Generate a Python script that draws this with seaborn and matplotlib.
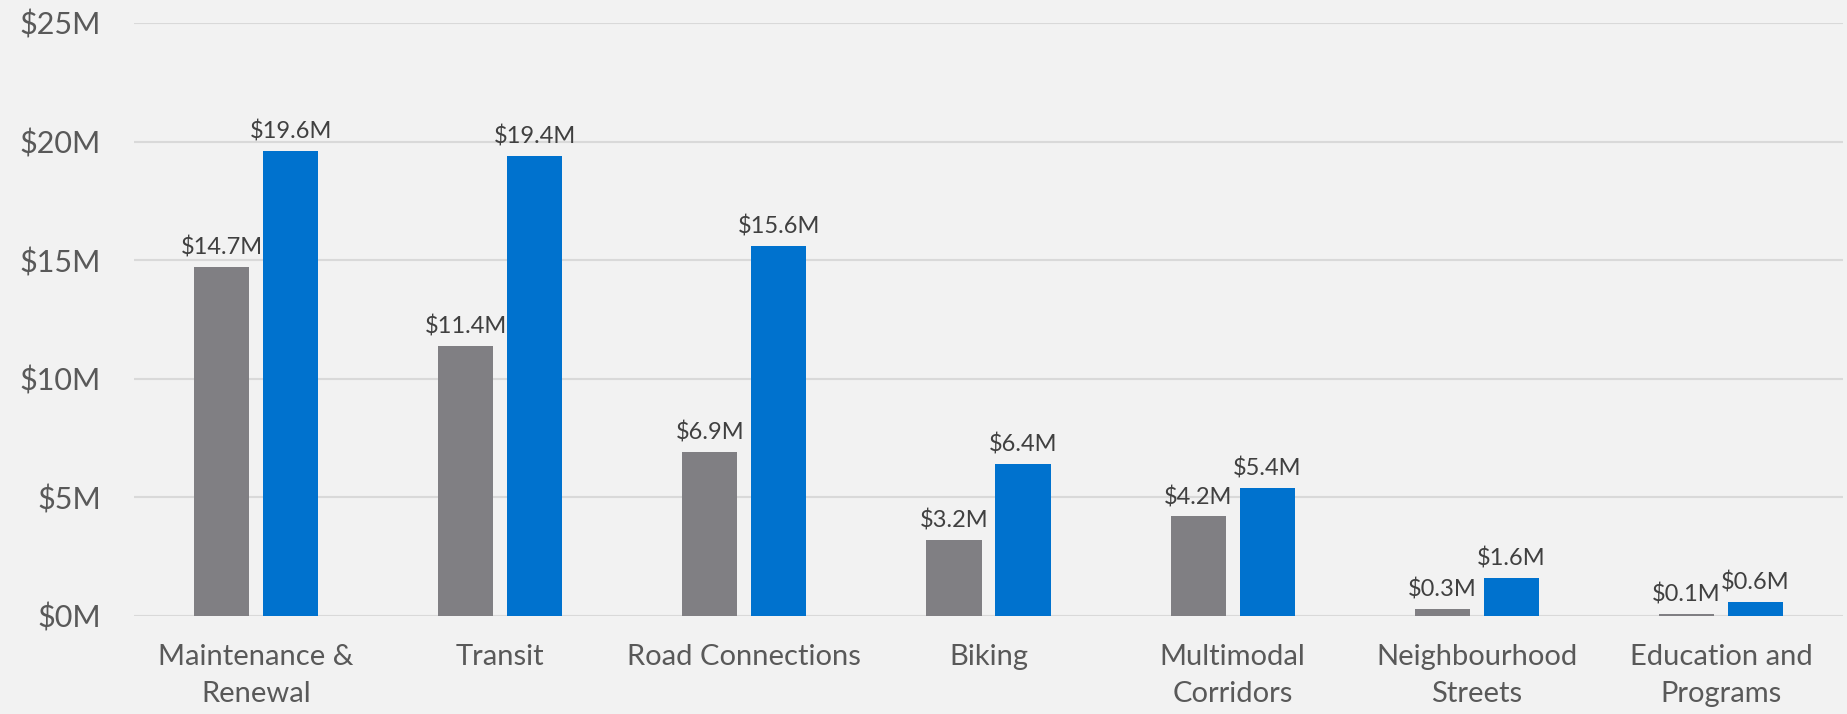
import matplotlib

matplotlib.use("Agg")
import matplotlib.pyplot as plt
import pandas as pd
import seaborn as sns

CATEGORIES = [
    "Maintenance &\nRenewal",
    "Transit",
    "Road Connections",
    "Biking",
    "Multimodal\nCorridors",
    "Neighbourhood\nStreets",
    "Education and\nPrograms",
]
SERIES = ["Previous", "Current"]
PREVIOUS = [14.7, 11.4, 6.9, 3.2, 4.2, 0.3, 0.1]
CURRENT = [19.6, 19.4, 15.6, 6.4, 5.4, 1.6, 0.6]
Y_TICKS = [0, 5, 10, 15, 20, 25]

BG = "#F2F2F2"
COLORS = ["#807F83", "#0072CE"]

frame = pd.DataFrame(
    {
        "category": CATEGORIES * 2,
        "series": [SERIES[0]] * len(CATEGORIES) + [SERIES[1]] * len(CATEGORIES),
        "value": PREVIOUS + CURRENT,
    }
)

sns.set_theme(style="white")
plt.rcParams["font.family"] = ["Lato", "DejaVu Sans"]

fig = plt.figure(figsize=(18.47, 7.14), dpi=100, facecolor=BG)
ax = fig.add_axes([0.0726, 0.1373, 0.9252, 0.8305])
ax.set_facecolor(BG)

sns.barplot(
    data=frame,
    x="category",
    y="value",
    hue="series",
    order=CATEGORIES,
    hue_order=SERIES,
    palette=COLORS,
    saturation=1,
    width=0.565,
    gap=0.2,
    linewidth=0,
    legend=False,
    ax=ax,
    zorder=3,
)

for container in ax.containers:
    for bar in container:
        height = bar.get_height()
        ax.annotate(
            f"${height:.1f}M",
            (bar.get_x() + bar.get_width() / 2, height),
            xytext=(0, 6),
            textcoords="offset points",
            ha="center",
            va="bottom",
            fontsize=17,
            color="#404040",
        )

ax.set_ylim(0, 25)
ax.set_xlim(-0.5, len(CATEGORIES) - 0.5)
ax.set_yticks(Y_TICKS)
ax.set_yticklabels([f"${t}M" for t in Y_TICKS])
ax.yaxis.grid(True, color="#D9D9D9", linewidth=1.5, zorder=0)
ax.set_axisbelow(True)
ax.set_xlabel("")
ax.set_ylabel("")
for spine in ax.spines.values():
    spine.set_visible(False)

ax.tick_params(axis="y", length=0, pad=24, labelsize=22, labelcolor="#595959")
ax.tick_params(axis="x", length=0, pad=20, labelsize=21, labelcolor="#595959")
for label in ax.get_xticklabels():
    label.set_linespacing(1.55)

fig.savefig("out.png", dpi=100, facecolor=BG)
